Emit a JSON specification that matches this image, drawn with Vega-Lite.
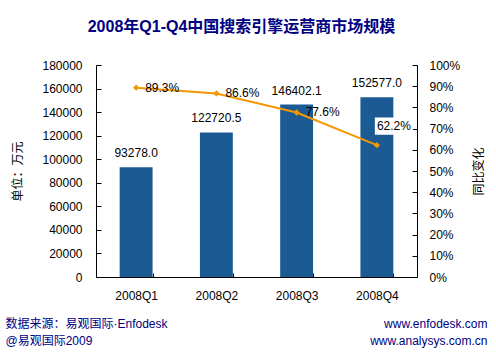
{
  "$schema": "https://vega.github.io/schema/vega-lite/v6.json",
  "width": 321,
  "height": 212,
  "autosize": {"type": "none"},
  "padding": {"left": 96, "top": 65, "right": 79, "bottom": 79},
  "background": "white",
  "title": {
    "text": "2008年Q1-Q4中国搜索引擎运营商市场规模",
    "frame": "group",
    "anchor": "middle",
    "dx": -15,
    "offset": 8,
    "baseline": "bottom",
    "fontSize": 16,
    "fontWeight": "bold",
    "color": "#000080",
    "font": "Liberation Sans, Noto Sans CJK SC"
  },
  "data": {
    "values": [
      {"q": "2008Q1", "v": 93278.0, "r": 0.893},
      {"q": "2008Q2", "v": 122720.5, "r": 0.866},
      {"q": "2008Q3", "v": 146402.1, "r": 0.776},
      {"q": "2008Q4", "v": 152577.0, "r": 0.622}
    ]
  },
  "config": {
    "view": {"stroke": null},
    "axis": {
      "grid": false,
      "domainColor": "black",
      "tickColor": "black",
      "labelColor": "black",
      "labelFont": "Liberation Sans, Noto Sans CJK SC",
      "titleFont": "Liberation Sans, Noto Sans CJK SC",
      "labelFontSize": 12,
      "titleFontSize": 12,
      "titleFontWeight": "normal",
      "titleColor": "black",
      "labelOverlap": false
    },
    "text": {"font": "Liberation Sans, Noto Sans CJK SC", "fontSize": 12, "color": "black"}
  },
  "layer": [
    {
      "layer": [
        {
          "mark": {"type": "bar", "color": "#1c5a94"},
          "encoding": {
            "x": {
              "field": "q", "type": "nominal", "sort": null,
              "scale": {"paddingInner": 0.59, "paddingOuter": 0.295},
              "axis": {
                "orient": "bottom",
                "labelAngle": 0,
                "tickBand": "extent",
                "tickSize": -4,
                "labelPadding": 17,
                "title": ["数据来源：易观国际·Enfodesk", "@易观国际2009"],
                "titleX": -91,
                "titleY": 41,
                "titleAlign": "left",
                "titleBaseline": "top",
                "titleColor": "#000080",
                "titleLineHeight": 17,
                "titleAngle": 0
              }
            },
            "y": {
              "field": "v", "type": "quantitative",
              "scale": {"domain": [0, 180000], "nice": false},
              "axis": {
                "orient": "left",
                "values": [0, 20000, 40000, 60000, 80000, 100000, 120000, 140000, 160000, 180000],
                "tickCount": 10,
                "labelOverlap": false,
                "format": "d",
                "tickSize": -5,
                "labelPadding": 19,
                "title": "单位：万元",
                "titlePadding": 17
              }
            }
          }
        },
        {
          "mark": {"type": "text", "baseline": "bottom", "dy": -7},
          "encoding": {
            "x": {"field": "q", "type": "nominal", "sort": null},
            "y": {"field": "v", "type": "quantitative"},
            "text": {"field": "v", "type": "quantitative", "format": ".1f"}
          }
        }
      ]
    },
    {
      "layer": [
        {
          "mark": {"type": "line", "color": "#f39800", "strokeWidth": 2},
          "encoding": {
            "x": {
              "field": "q", "type": "nominal", "sort": null, "bandPosition": 0.5,
              "axis": {
                "orient": "top",
                "domain": false,
                "ticks": false,
                "labels": false,
                "title": ["www.enfodesk.com", "www.analysys.com.cn"],
                "titleX": 391,
                "titleY": 253,
                "titleAlign": "right",
                "titleBaseline": "top",
                "titleColor": "#000080",
                "titleLineHeight": 17,
                "titleAngle": 0
              }
            },
            "y": {
              "field": "r", "type": "quantitative",
              "scale": {"domain": [0, 1], "nice": false},
              "axis": {
                "orient": "right",
                "values": [0, 0.1, 0.2, 0.3, 0.4, 0.5, 0.6, 0.7, 0.8, 0.9, 1],
                "tickCount": 11,
                "labelOverlap": false,
                "format": ".0%",
                "tickSize": -5,
                "labelPadding": 17,
                "title": "同比变化",
                "titleAngle": -90,
                "titlePadding": 26
              }
            }
          }
        },
        {
          "mark": {"type": "point", "shape": "diamond", "filled": true, "color": "#f39800", "size": 40, "opacity": 1},
          "encoding": {
            "x": {"field": "q", "type": "nominal", "sort": null, "bandPosition": 0.5},
            "y": {"field": "r", "type": "quantitative"}
          }
        },
        {
          "transform": [{"filter": "datum.q != '2008Q4'"}],
          "mark": {"type": "text", "align": "left", "baseline": "middle", "dx": 9},
          "encoding": {
            "x": {"field": "q", "type": "nominal", "sort": null, "bandPosition": 0.5},
            "y": {"field": "r", "type": "quantitative"},
            "text": {"field": "r", "type": "quantitative", "format": ".1%"}
          }
        },
        {
          "transform": [{"filter": "datum.q == '2008Q4'"}],
          "mark": {"type": "point", "shape": "M-1,-0.45H1V0.45H-1Z", "filled": true, "color": "white", "opacity": 1, "size": 1444, "xOffset": 17, "yOffset": -19},
          "encoding": {
            "x": {"field": "q", "type": "nominal", "sort": null, "bandPosition": 0.5},
            "y": {"field": "r", "type": "quantitative"}
          }
        },
        {
          "transform": [{"filter": "datum.q == '2008Q4'"}],
          "mark": {"type": "text", "align": "left", "baseline": "middle", "dx": 0, "dy": -19},
          "encoding": {
            "x": {"field": "q", "type": "nominal", "sort": null, "bandPosition": 0.5},
            "y": {"field": "r", "type": "quantitative"},
            "text": {"field": "r", "type": "quantitative", "format": ".1%"}
          }
        }
      ]
    }
  ],
  "resolve": {"scale": {"y": "independent"}, "axis": {"x": "independent"}}
}
